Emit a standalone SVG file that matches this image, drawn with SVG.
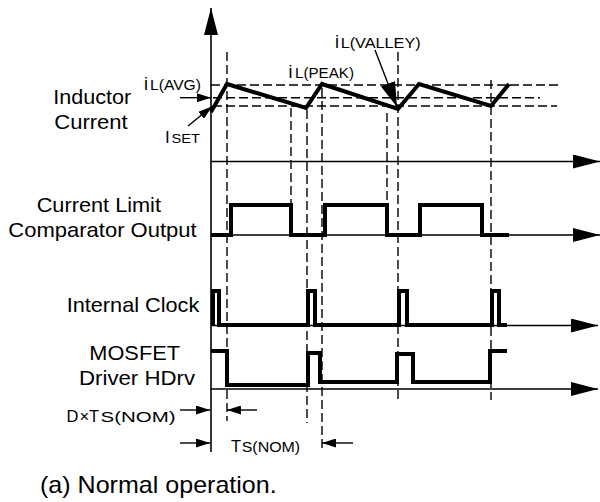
<svg xmlns="http://www.w3.org/2000/svg" width="600" height="502" viewBox="0 0 600 502">
<defs>
<style>
.axis{stroke:#000;stroke-width:1.6;fill:none}
.dash{stroke:#000;stroke-width:1.4;fill:none;stroke-dasharray:9 4}
.wave{stroke:#000;stroke-width:4;fill:none;stroke-linejoin:miter;stroke-linecap:butt}
.dim{stroke:#000;stroke-width:1.4;fill:none}
.lbl{font-family:"Liberation Sans",Arial,sans-serif;fill:#000}
.big{font-size:21px}
.sym{font-size:18px}
.sub{font-size:14px}
</style>
<marker id="bigHead" markerUnits="userSpaceOnUse" viewBox="0 0 27 14" refX="27" refY="7" markerWidth="27" markerHeight="14" orient="auto"><path d="M0,0L27,7L0,14Z" fill="#000"/></marker>
<marker id="midHead" markerUnits="userSpaceOnUse" viewBox="0 0 25 15" refX="25" refY="7.5" markerWidth="25" markerHeight="15" orient="auto"><path d="M0,0L25,7.5L0,15Z" fill="#000"/></marker>
<marker id="smallHead" markerUnits="userSpaceOnUse" viewBox="0 0 14 9" refX="14" refY="4.5" markerWidth="14" markerHeight="9" orient="auto"><path d="M0,0L14,4.5L0,9Z" fill="#000"/></marker>
</defs>
<rect width="600" height="502" fill="#fff"/>

<g id="grid">
<line class="dash" x1="211" y1="85" x2="562" y2="85"/>
<line class="dash" x1="213" y1="97.7" x2="540" y2="97.7"/>
<line class="dash" x1="213" y1="106" x2="557" y2="106"/>
<line class="dash" x1="227" y1="52" x2="227" y2="421"/>
<line class="dash" x1="291" y1="108" x2="291" y2="205"/>
<line class="dash" x1="307" y1="110" x2="307" y2="423"/>
<line class="dash" x1="322" y1="88" x2="322" y2="452"/>
<line class="dash" x1="387" y1="113" x2="387" y2="204"/>
<line class="dash" x1="398" y1="52" x2="398" y2="400"/>
<line class="dash" x1="491" y1="80" x2="491" y2="400"/>
</g>

<g id="axes">
<line class="axis" x1="211" y1="452" x2="211" y2="8" marker-end="url(#bigHead)"/>
<line class="axis" x1="211" y1="161.5" x2="600" y2="161.5" marker-end="url(#bigHead)"/>
<line class="axis" x1="211" y1="235" x2="600" y2="235" marker-end="url(#bigHead)"/>
<line class="axis" x1="211" y1="325.5" x2="598" y2="325.5" marker-end="url(#bigHead)"/>
<line class="axis" x1="211" y1="389" x2="598" y2="389" marker-end="url(#bigHead)"/>
</g>

<g id="inductor-current">
<text class="lbl big" x="53.3" y="104" textLength="78" lengthAdjust="spacingAndGlyphs">Inductor</text>
<text class="lbl big" x="54.3" y="129.3" textLength="73.4" lengthAdjust="spacingAndGlyphs">Current</text>
<path class="wave" d="M211,112 L227,84 L306,108 L322,84 L398,109 L419,84 L491,106 L509,84"/>
</g>

<g id="comparator-output">
<text class="lbl big" x="36.7" y="212.3" textLength="124.3" lengthAdjust="spacingAndGlyphs">Current Limit</text>
<text class="lbl big" x="8.3" y="237.3" textLength="188.4" lengthAdjust="spacingAndGlyphs">Comparator Output</text>
<path class="wave" d="M211,235 H231 V205 H291 V235 H325 V205 H387 V235 H420 V205 H482 V235 H509"/>
</g>

<g id="internal-clock">
<text class="lbl big" x="66.7" y="311.7" textLength="132.6" lengthAdjust="spacingAndGlyphs">Internal Clock</text>
<path class="wave" d="M213,325 V291 H219 V325 H308 V291 H315 V325 H399 V291 H407 V325 H492 V291 H499 V325 H507"/>
</g>

<g id="mosfet-driver">
<text class="lbl big" x="89.3" y="360" textLength="90.7" lengthAdjust="spacingAndGlyphs">MOSFET</text>
<text class="lbl big" x="79" y="385" textLength="116" lengthAdjust="spacingAndGlyphs">Driver HDrv</text>
<path class="wave" d="M211,351 H227 V385 H308 V353 H320 V382 H397 V354 H413 V382 H490 V351 H507"/>
</g>

<g id="connectors">
<line class="dim" x1="180" y1="97.7" x2="211" y2="97.7" marker-end="url(#smallHead)"/>
<line class="dim" x1="188" y1="126" x2="212" y2="106.5" marker-end="url(#smallHead)"/>
<line class="dim" x1="375" y1="50" x2="397" y2="107" marker-end="url(#midHead)"/>
<line class="dim" x1="180" y1="410" x2="210" y2="410" marker-end="url(#smallHead)"/>
<line class="dim" x1="257" y1="410" x2="227" y2="410" marker-end="url(#smallHead)"/>
<line class="dim" x1="180" y1="443" x2="210" y2="443" marker-end="url(#smallHead)"/>
<line class="dim" x1="353" y1="443" x2="322" y2="443" marker-end="url(#smallHead)"/>
</g>

<g id="labels">
<text class="lbl sym" x="144" y="90">i</text>
<text class="lbl sub" x="150" y="90" textLength="51" lengthAdjust="spacingAndGlyphs">L(AVG)</text>
<text class="lbl" font-size="17" x="165" y="143.3">I</text>
<text class="lbl" font-size="13" x="171.5" y="143.3" textLength="28.5" lengthAdjust="spacingAndGlyphs">SET</text>
<text class="lbl sym" x="288.5" y="78.3">i</text>
<text class="lbl sub" x="295" y="78.3" textLength="59" lengthAdjust="spacingAndGlyphs">L(PEAK)</text>
<text class="lbl sym" x="335" y="48.3">i</text>
<text class="lbl sub" x="340.7" y="48.3" textLength="80" lengthAdjust="spacingAndGlyphs">L(VALLEY)</text>
<text class="lbl" font-size="16.5" x="66.5" y="421.7">D</text>
<text class="lbl" font-size="16.5" x="79.5" y="421.7">×</text>
<text class="lbl" font-size="16.5" x="89" y="421.7">T</text>
<text class="lbl sub" x="100.5" y="421.7" textLength="75" lengthAdjust="spacingAndGlyphs">S(NOM)</text>
<text class="lbl" font-size="16.5" x="231" y="452">T</text>
<text class="lbl sub" x="241.7" y="452" textLength="58.5" lengthAdjust="spacingAndGlyphs">S(NOM)</text>
<text class="lbl" font-size="24" x="40" y="493.3" textLength="236.7" lengthAdjust="spacingAndGlyphs">(a) Normal operation.</text>
</g>
</svg>
